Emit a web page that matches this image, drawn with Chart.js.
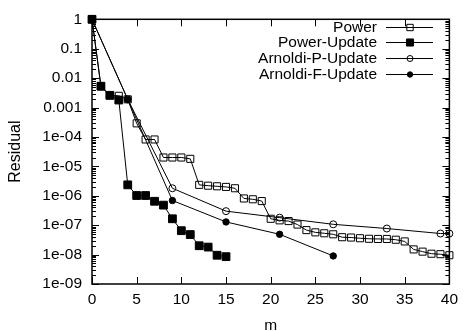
<!DOCTYPE html>
<html>
<head>
<meta charset="utf-8">
<script src="https://cdn.jsdelivr.net/npm/chart.js@4.4.0/dist/chart.umd.min.js"></script>
<style>
    html, body { margin: 0; padding: 0; background: #fff; }
    #grafico { display: block; }
</style>
</head>
<body>
<canvas id="grafico" width="464" height="331"></canvas>
<script>
// dados
const mPower = [0, 1, 2, 3, 4, 5, 6, 7, 8, 9, 10, 11, 12, 13, 14, 15, 16, 17, 18, 19, 20,
    21, 22, 23, 24, 25, 26, 27, 28, 29, 30, 31, 32, 33, 34, 35, 36, 37, 38, 39, 40];
const residualPower = [1, 5.3e-3, 2.6e-3, 2.5e-3, 1.9e-3, 2.9e-4, 8.2e-5, 8.2e-5, 2.0e-5, 2.0e-5,
    2.0e-5, 1.8e-5, 2.35e-6, 2.2e-6, 2.1e-6, 2.0e-6, 1.8e-6, 8.1e-7, 7.6e-7, 6.6e-7,
    1.65e-7, 1.46e-7, 1.38e-7, 1.05e-7, 6.8e-8, 5.7e-8, 5.3e-8, 4.9e-8, 3.9e-8, 3.8e-8,
    3.6e-8, 3.45e-8, 3.4e-8, 3.4e-8, 3.2e-8, 2.8e-8, 1.5e-8, 1.26e-8, 1.07e-8, 1.03e-8, 9.5e-9];

const mPowerUpdate = [0, 1, 2, 3, 4, 5, 6, 7, 8, 9, 10, 11, 12, 13, 14, 15];
const residualPowerUpdate = [1, 5.3e-3, 2.6e-3, 1.8e-3, 2.35e-6, 1.02e-6, 1.02e-6, 6.5e-7, 4.8e-7,
    1.65e-7, 6.5e-8, 4.8e-8, 2.0e-8, 1.8e-8, 9.5e-9, 8.5e-9];

const mArnoldiP = [0, 4, 9, 15, 21, 27, 33, 39, 40];
const residualArnoldiP = [1, 1.9e-3, 1.8e-6, 3.0e-7, 1.8e-7, 1.07e-7, 7.7e-8, 5.2e-8, 5.2e-8];

const mArnoldiF = [0, 4, 9, 15, 21, 27];
const residualArnoldiF = [1, 1.9e-3, 6.9e-7, 1.29e-7, 4.9e-8, 9.0e-9];

const seriesNomes = ['Power', 'Power-Update', 'Arnoldi-P-Update', 'Arnoldi-F-Update'];
const xTicks = [0, 5, 10, 15, 20, 25, 30, 35, 40];
const yTicks = [1, 1e-1, 1e-2, 1e-3, 1e-4, 1e-5, 1e-6, 1e-7, 1e-8, 1e-9];
const yTickLabels = ['1', '0.1', '0.01', '0.001', '1e-04', '1e-05', '1e-06', '1e-07', '1e-08', '1e-09'];

const FONTE = "'Liberation Sans', Arial, sans-serif";
const TAM = 15.5;
const juntar = (xs, ys) => xs.map((x, i) => ({ x: x, y: ys[i] }));

function serie(nome, xs, ys, estilo, raio, preenchido, ordem) {
    return {
        label: nome,
        data: juntar(xs, ys),
        borderColor: '#000',
        borderWidth: 1,
        pointStyle: estilo,
        pointRadius: raio,
        pointHoverRadius: raio,
        pointBorderWidth: 1,
        pointBorderColor: '#000',
        pointBackgroundColor: preenchido ? '#000' : 'rgba(0,0,0,0)',
        tension: 0,
        clip: false,
        order: ordem
    };
}

// moldura com marcas para dentro (estilo gnuplot)
const moldura = {
    id: 'moldura',
    beforeDatasetsDraw(chart) {
        const { ctx, chartArea: a, scales } = chart;
        ctx.save();
        ctx.strokeStyle = '#000';
        ctx.lineWidth = 1.5;
        ctx.strokeRect(a.left, a.top, a.right - a.left, a.bottom - a.top);
        ctx.lineWidth = 1;
        ctx.beginPath();
        xTicks.forEach(v => {
            const px = Math.round(scales.x.getPixelForValue(v)) + 0.5;
            ctx.moveTo(px, a.bottom); ctx.lineTo(px, a.bottom - 7);
            ctx.moveTo(px, a.top); ctx.lineTo(px, a.top + 7);
        });
        yTicks.forEach(v => {
            for (let k = 1; k <= 9; k++) {
                const val = v * k;
                if (val > 1.0001) continue;
                const py = Math.round(scales.y.getPixelForValue(val)) + 0.5;
                const len = k === 1 ? 7 : 4;
                ctx.moveTo(a.left, py); ctx.lineTo(a.left + len, py);
                ctx.moveTo(a.right, py); ctx.lineTo(a.right - len, py);
            }
        });
        ctx.stroke();
        ctx.restore();
    }
};

// legenda: texto alinhado a direita, depois amostra da linha com o marcador
const legendaDireita = {
    id: 'legendaDireita',
    afterDraw(chart) {
        const ctx = chart.ctx;
        ctx.save();
        ctx.font = TAM + 'px ' + FONTE;
        ctx.textAlign = 'right';
        ctx.textBaseline = 'middle';
        chart.data.datasets.forEach((ds, i) => {
            const y = Math.round(26.5 + i * 15.7);
            ctx.fillStyle = '#000';
            ctx.fillText(ds.label, 377, y + 1);
            ctx.strokeStyle = '#000';
            ctx.lineWidth = 1;
            ctx.beginPath();
            ctx.moveTo(386, y + 0.5);
            ctx.lineTo(433, y + 0.5);
            ctx.stroke();
            ctx.fillStyle = ds.pointBackgroundColor;
            Chart.helpers.drawPoint(ctx, { pointStyle: ds.pointStyle, radius: ds.pointRadius - 0.5, borderWidth: 1, rotation: 0 }, 410, y + 0.5);
        });
        ctx.restore();
    }
};

const grafico = new Chart(document.getElementById('grafico').getContext('2d'), {
    type: 'line',
    data: {
        datasets: [
            serie(seriesNomes[0], mPower, residualPower, 'rect', 5, false, 4),
            serie(seriesNomes[1], mPowerUpdate, residualPowerUpdate, 'rect', 5.5, true, 3),
            serie(seriesNomes[2], mArnoldiP, residualArnoldiP, 'circle', 3.5, false, 2),
            serie(seriesNomes[3], mArnoldiF, residualArnoldiF, 'circle', 3.2, true, 1)
        ]
    },
    options: {
        responsive: false,
        animation: false,
        events: [],
        layout: { padding: { top: 11, right: 13, left: 0, bottom: 0 } },
        plugins: {
            legend: { display: false },
            tooltip: { enabled: false }
        },
        scales: {
            x: {
                type: 'linear',
                min: 0,
                max: 40,
                grid: { display: false, drawTicks: false },
                border: { display: false },
                ticks: {
                    padding: 6,
                    color: '#000',
                    font: { family: FONTE, size: TAM },
                    maxRotation: 0
                },
                title: {
                    display: true,
                    text: 'm',
                    color: '#000',
                    font: { family: FONTE, size: TAM },
                    padding: { top: 0, bottom: -4 }
                },
                afterBuildTicks: (scale) => { scale.ticks = xTicks.map(v => ({ value: v })); },
                afterFit: (scale) => { scale.height = 47; }
            },
            y: {
                type: 'logarithmic',
                min: 1e-9,
                max: 1,
                grid: { display: false, drawTicks: false },
                border: { display: false },
                ticks: {
                    padding: 10,
                    color: '#000',
                    font: { family: FONTE, size: TAM },
                    callback: (value, index) => yTickLabels[index]
                },
                title: {
                    display: true,
                    text: 'Residual',
                    color: '#000',
                    font: { family: FONTE, size: 16 },
                    padding: { top: 5.5, bottom: 0 }
                },
                afterBuildTicks: (scale) => { scale.ticks = yTicks.map(v => ({ value: v })); },
                afterFit: (scale) => { scale.width = 92; }
            }
        }
    },
    plugins: [moldura, legendaDireita]
});
</script>
</body>
</html>
